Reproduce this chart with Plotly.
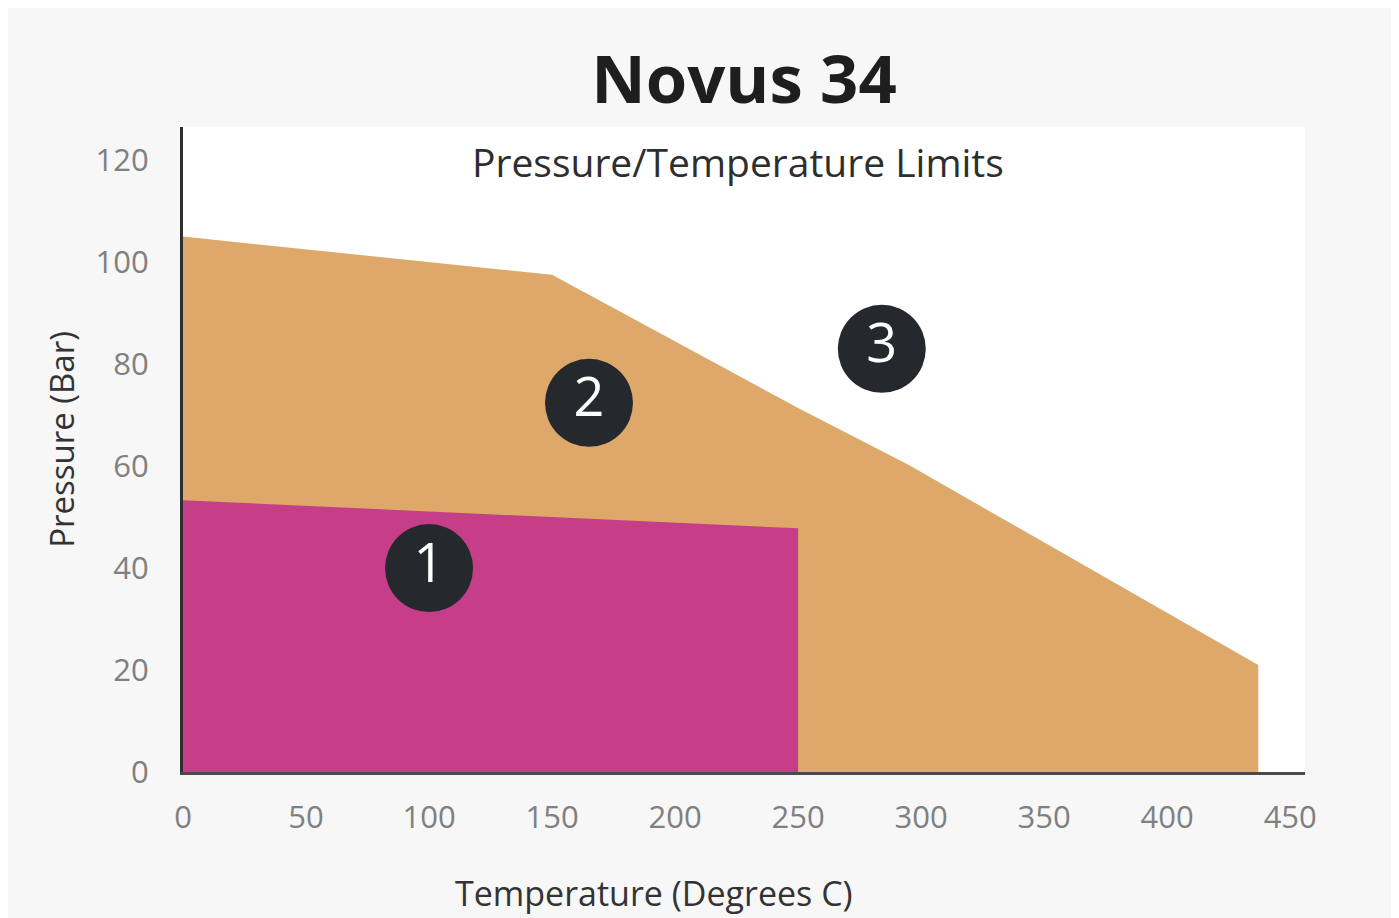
import plotly.graph_objects as go

# ---- data ----
orange_temp = [0, 150, 250, 295, 437]
orange_pressure = [105, 97.5, 71.4, 60.2, 21]

pink_temp = [0, 250]
pink_pressure = [53.3, 47.8]

zone_labels = ["1", "2", "3"]
zone_temp = [100, 165, 284]
zone_pressure = [40, 72.4, 83]

x_ticks = [0, 50, 100, 150, 200, 250, 300, 350, 400, 450]
y_ticks = [0, 20, 40, 60, 80, 100, 120]

ORANGE = "#dea86b"
PINK = "#c53e87"
DARK = "#25292e"

# page body has an 8px margin, so the figure is drawn 8px smaller
W, H = 1391, 910

fig = go.Figure()

fig.add_trace(go.Scatter(
    x=orange_temp, y=orange_pressure, mode="none", fill="tozeroy",
    fillcolor=ORANGE, hoverinfo="skip", showlegend=False))

fig.add_trace(go.Scatter(
    x=pink_temp, y=pink_pressure, mode="none", fill="tozeroy",
    fillcolor=PINK, hoverinfo="skip", showlegend=False))

fig.add_trace(go.Scatter(
    x=zone_temp, y=zone_pressure, mode="markers+text", text=zone_labels,
    textposition="middle center",
    marker=dict(size=88, color=DARK, line=dict(width=0)),
    textfont=dict(family="Open Sans", size=54, color="white"),
    hoverinfo="skip", showlegend=False))

fig.update_layout(
    width=W, height=H,
    margin=dict(l=175, r=94, t=119, b=146),
    paper_bgcolor="#f7f7f7",
    plot_bgcolor="white",
    title=dict(text="<b>Novus 34</b>", x=0.5, xref="paper", xanchor="center",
               y=1 - 72 / H, yref="container", yanchor="middle",
               font=dict(family="Open Sans", size=67, color="#1e1e1e")),
    xaxis=dict(range=[0, 456], tickvals=x_ticks, showgrid=False, zeroline=False,
               showline=True, linecolor="#4a4a4a", linewidth=3,
               ticks="", ticklabelstandoff=16,
               tickfont=dict(family="Open Sans", size=31, color="#808080")),
    yaxis=dict(range=[0, 126.5], tickvals=y_ticks, showgrid=False, zeroline=False,
               showline=True, linecolor="#2e2e2e", linewidth=3,
               ticks="", ticklabelstandoff=25,
               tickfont=dict(family="Open Sans", size=31, color="#808080")),
    annotations=[
        dict(text="Pressure/Temperature Limits", xref="paper", yref="paper",
             x=0.495, y=0.946, xanchor="center", yanchor="middle", showarrow=False,
             font=dict(family="Open Sans", size=39, color="#2e2e2e")),
        dict(text="Pressure (Bar)", xref="paper", yref="paper",
             x=0, y=0.515, xshift=-121, xanchor="center", yanchor="middle",
             textangle=-90, showarrow=False,
             font=dict(family="Open Sans", size=33, color="#333333")),
        dict(text="Temperature (Degrees C)", xref="paper", yref="paper",
             x=0.42, y=0, yshift=-121, xanchor="center", yanchor="middle",
             showarrow=False,
             font=dict(family="Open Sans", size=34, color="#333333")),
    ],
)

fig.write_html("out.html")
